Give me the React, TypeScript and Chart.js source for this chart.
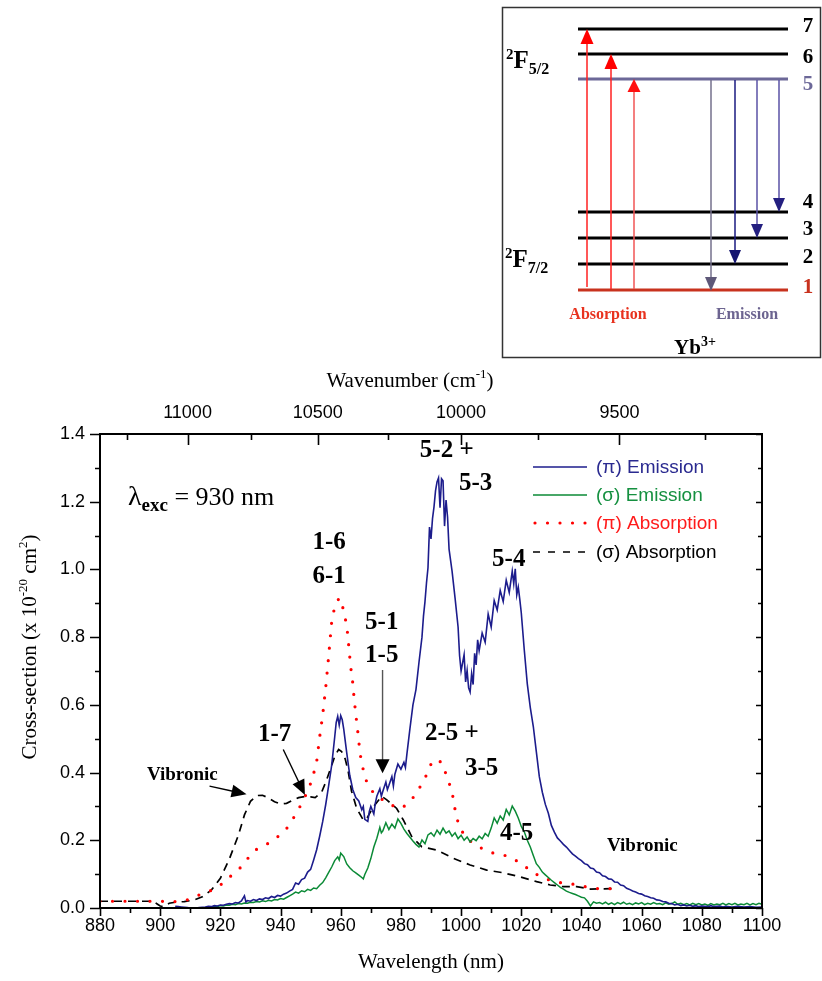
import { useEffect, useRef } from "react";
import { Chart, registerables } from "chart.js";
Chart.register(...registerables);

// ---------- data: [wavelength nm, cross-section x1e-20 cm^2] ----------
const piEmission: [number, number][] = [
  [905,0.005],[906,0.004],[907,0.003],[908,0.002],[909,0.001],[910,0],[911,0],[912,0],[913,0.001],[914,0.002],
  [915,0.003],[916,0.005],[917,0.004],[918,0.007],[919,0.006],[920,0.009],[921,0.008],[922,0.011],[923,0.013],[924,0.012],
  [925,0.016],[926,0.015],[927,0.021],[928,0.036],[928.5,0.018],[929,0.022],[930,0.020],[931,0.025],[932,0.022],[933,0.027],
  [934,0.025],[935,0.030],[936,0.028],[937,0.034],[938,0.031],[939,0.037],[940,0.035],[941,0.041],[942,0.044],[943,0.050],
  [944,0.055],[945,0.074],[946,0.070],[947,0.084],[948,0.088],[949,0.106],[950,0.114],[951,0.142],[952,0.172],[953,0.212],
  [954,0.255],[955,0.305],[956,0.362],[957,0.422],[958,0.505],[958.5,0.548],[959,0.566],[959.5,0.540],[960,0.568],[960.5,0.556],
  [961,0.528],[962,0.458],[963,0.392],[964,0.350],[965,0.326],[966,0.316],[967,0.290],[967.5,0.300],[968,0.262],[969,0.256],
  [969.5,0.285],[970,0.300],[971,0.278],[971.5,0.310],[972,0.330],[973,0.352],[973.5,0.330],[974,0.345],[975,0.372],[975.5,0.350],
  [976,0.362],[977,0.388],[977.5,0.360],[978,0.395],[979,0.425],[980,0.410],[981,0.430],[981.5,0.415],[982,0.455],[983,0.530],
  [984,0.600],[985,0.645],[986,0.725],[987,0.800],[987.5,0.862],[988,0.905],[988.5,0.960],[989,1.005],[989.5,1.125],[990,1.090],
  [990.5,1.150],[991,1.185],[991.5,1.232],[992,1.258],[992.5,1.270],[993,1.182],[993.5,1.268],[994,1.262],[994.5,1.128],[995,1.205],
  [995.5,1.155],[996,1.060],[997,0.995],[998,0.915],[999,0.830],[999.5,0.745],[1000,0.700],[1001,0.748],[1001.5,0.668],[1002,0.702],
  [1002.5,0.650],[1003,0.638],[1003.5,0.692],[1004,0.660],[1004.5,0.752],[1005,0.718],[1005.5,0.792],[1006,0.760],[1007,0.812],[1008,0.785],
  [1009,0.868],[1010,0.830],[1011,0.908],[1012,0.880],[1013,0.938],[1014,0.905],[1015,0.968],[1016,0.932],[1017,0.995],[1017.5,0.958],
  [1018,1.002],[1018.5,0.925],[1019,0.948],[1019.5,0.912],[1020,0.872],[1021,0.762],[1022,0.662],[1023,0.592],[1024,0.536],[1025,0.462],
  [1026,0.388],[1027,0.342],[1028,0.306],[1029,0.280],[1030,0.244],[1031,0.224],[1032,0.207],[1033,0.198],[1034,0.188],[1035,0.180],
  [1036,0.170],[1037,0.160],[1038,0.153],[1039,0.146],[1040,0.140],[1041,0.131],[1042,0.128],[1043,0.118],[1044,0.116],[1045,0.106],
  [1046,0.104],[1047,0.095],[1048,0.093],[1049,0.086],[1050,0.085],[1051,0.077],[1052,0.076],[1053,0.068],[1054,0.066],[1055,0.058],
  [1056,0.055],[1057,0.050],[1058,0.047],[1059,0.043],[1060,0.041],[1061,0.036],[1062,0.034],[1063,0.030],[1064,0.029],[1065,0.024],
  [1066,0.023],[1067,0.019],[1068,0.018],[1069,0.014],[1070,0.013],[1071,0.009],[1072,0.011],[1073,0.007],[1074,0.009],[1075,0.006],
  [1076,0.008],[1077,0.005],[1078,0.007],[1079,0.004],[1080,0.006],[1082,0.004],[1083,0.007],[1084,0.004],[1086,0.006],[1087,0.003],
  [1088,0.005],[1090,0.003],[1092,0.005],[1094,0.003],[1096,0.004],[1098,0.002],[1100,0.003]
];

const sigmaEmission: [number, number][] = [
  [914,0],[915,0.001],[916,0.003],[917,0.002],[918,0.005],[919,0.004],[920,0.007],[921,0.006],[922,0.009],[923,0.008],
  [924,0.011],[925,0.010],[926,0.013],[927,0.012],[928,0.015],[929,0.014],[930,0.017],[931,0.016],[932,0.019],[933,0.018],
  [934,0.021],[935,0.019],[936,0.023],[937,0.021],[938,0.025],[939,0.024],[940,0.028],[941,0.026],[942,0.031],[943,0.036],
  [944,0.041],[945,0.047],[946,0.044],[947,0.051],[948,0.048],[949,0.055],[950,0.052],[951,0.059],[952,0.057],[953,0.067],
  [954,0.075],[955,0.089],[956,0.105],[957,0.121],[958,0.140],[959,0.151],[959.5,0.142],[960,0.162],[961,0.152],[962,0.130],
  [963,0.119],[964,0.110],[965,0.104],[966,0.097],[967,0.090],[967.5,0.086],[968,0.099],[969,0.118],[970,0.146],[971,0.180],
  [972,0.206],[973,0.238],[973.5,0.222],[974,0.228],[975,0.252],[976,0.232],[977,0.248],[978,0.236],[979,0.263],[980,0.250],
  [981,0.233],[982,0.220],[983,0.209],[984,0.198],[985,0.188],[986,0.180],[987,0.201],[988,0.190],[989,0.216],[990,0.222],
  [991,0.212],[992,0.230],[993,0.218],[994,0.236],[995,0.221],[996,0.228],[997,0.212],[998,0.222],[999,0.205],[1000,0.215],
  [1001,0.200],[1002,0.210],[1003,0.195],[1004,0.205],[1005,0.199],[1006,0.212],[1007,0.204],[1008,0.220],[1009,0.212],[1010,0.236],
  [1011,0.266],[1012,0.250],[1013,0.272],[1014,0.260],[1015,0.291],[1016,0.275],[1017,0.301],[1018,0.286],[1019,0.266],[1020,0.241],
  [1021,0.225],[1022,0.200],[1023,0.180],[1024,0.155],[1025,0.131],[1026,0.120],[1027,0.106],[1028,0.098],[1029,0.090],[1030,0.082],
  [1031,0.075],[1032,0.068],[1033,0.061],[1034,0.056],[1035,0.050],[1036,0.046],[1037,0.043],[1038,0.040],[1039,0.036],[1040,0.032],
  [1041,0.030],[1042,0.020],[1043,0.006],[1044,0.018],[1045,0.014],[1046,0.016],[1047,0.012],[1048,0.017],[1049,0.011],[1050,0.015],
  [1051,0.010],[1052,0.016],[1053,0.012],[1054,0.017],[1055,0.011],[1056,0.014],[1057,0.010],[1058,0.015],[1059,0.012],[1060,0.016],
  [1061,0.010],[1062,0.014],[1063,0.011],[1064,0.016],[1065,0.012],[1066,0.013],[1067,0.010],[1068,0.015],[1069,0.011],[1070,0.013],
  [1071,0.018],[1072,0.011],[1073,0.014],[1074,0.010],[1075,0.013],[1076,0.009],[1077,0.014],[1078,0.010],[1079,0.013],[1080,0.009],
  [1081,0.012],[1082,0.008],[1083,0.013],[1084,0.009],[1085,0.012],[1086,0.010],[1087,0.014],[1088,0.009],[1089,0.013],[1090,0.010],
  [1091,0.014],[1092,0.009],[1093,0.012],[1094,0.010],[1095,0.014],[1096,0.009],[1097,0.013],[1098,0.010],[1099,0.014],[1100,0.011]
];

const piAbsorption: [number, number][] = [
  [880,0.02],[884,0.02],[888,0.02],[892,0.02],[896,0.02],[900,0.02],[903,0.019],[906,0.019],[909,0.024],[911,0.030],
  [914,0.043],[917,0.052],[919,0.061],[921,0.075],[923,0.091],[925,0.106],[927,0.122],[929,0.145],[931,0.168],[933,0.178],
  [935,0.186],[937,0.197],[939,0.210],[941,0.225],[943,0.245],[945,0.277],[947,0.308],[949,0.345],[950.5,0.38],[952,0.432],
  [953,0.505],[954,0.57],[955,0.65],[956,0.745],[957,0.846],[958,0.89],[959,0.91],[960,0.915],[961,0.875],[962,0.835],
  [962.5,0.79],[963.3,0.713],[964,0.665],[964.5,0.614],[965.1,0.565],[965.8,0.511],[966.4,0.457],[968,0.385],[970,0.35],[972,0.33],
  [975,0.314],[979,0.294],[981,0.3],[983.5,0.319],[986,0.352],[988.5,0.393],[990,0.425],[992,0.44],[994,0.425],[995.2,0.388],
  [996.9,0.348],[998.3,0.275],[999.6,0.235],[1002.4,0.201],[1006.9,0.176],[1010.7,0.162],[1015.2,0.154],[1019.6,0.134],[1024,0.104],[1028.4,0.085],
  [1032.9,0.075],[1036.8,0.071],[1041.2,0.063],[1045.7,0.057],[1050.3,0.057]
];

const sigmaAbsorption: [number, number][] = [
  [880,0.02],[884,0.02],[888,0.02],[892,0.02],[896,0.02],[898,0.018],[899,0.012],[900,0.006],[901,0.004],[902,0.008],
  [903,0.014],[905,0.017],[908,0.019],[911,0.023],[914,0.033],[917,0.053],[920,0.088],[923,0.145],[926,0.215],[928,0.275],
  [930,0.315],[932,0.332],[934,0.333],[936,0.325],[938,0.314],[940,0.307],[942,0.309],[944,0.318],[946,0.326],[948,0.329],
  [950,0.328],[951.5,0.326],[953.7,0.343],[955.3,0.378],[957,0.422],[958.1,0.450],[959.3,0.468],[960.3,0.462],[961.5,0.440],[962.5,0.403],
  [963.6,0.345],[965.3,0.294],[967.5,0.260],[968.5,0.262],[970.8,0.298],[973.6,0.330],[975.2,0.320],[978.6,0.294],[980.8,0.260],[983.6,0.211],
  [986.9,0.181],[991.9,0.171],[997.4,0.147],[1003,0.127],[1008.5,0.112],[1014,0.104],[1019.6,0.092],[1025.1,0.078],[1029.6,0.068],[1034,0.063],
  [1038.4,0.063],[1043,0.056],[1050,0.057]
];

const seriesLabels = ["(π) Emission", "(σ) Emission", "(π) Absorption", "(σ) Absorption"];
const seriesColors = ["#1c1c8c", "#0b8a36", "#ff0000", "#000000"];
const legendTextColors = ["#2a2a90", "#159040", "#ff1a1a", "#000000"];

const topWavenumberMajor = [11000, 10500, 10000, 9500];
const topWavenumberMinor = [11250, 10750, 10250, 9750, 9250];

// transition labels anchored in data coordinates (left edge, vertical centre)
const peakLabels = ["5-2 +", "5-3", "5-4", "1-6", "6-1", "5-1", "1-5", "1-7", "2-5 +", "3-5", "4-5"];
const peakLabelNm = [986.3, 999.3, 1010.3, 950.6, 950.6, 968.1, 968.1, 932.5, 988.0, 1001.3, 1012.9];
const peakLabelVal = [1.352, 1.255, 1.028, 1.078, 0.980, 0.842, 0.747, 0.511, 0.514, 0.413, 0.221];

const FONT_SANS = "'Liberation Sans', Arial, Helvetica, sans-serif";
const FONT_SERIF = "'Liberation Serif', 'Times New Roman', Times, serif";

type Part = { t: string; size: number; bold?: boolean; dy?: number };

function richWidth(ctx: CanvasRenderingContext2D, parts: Part[]) {
  let w = 0;
  for (const p of parts) {
    ctx.font = `${p.bold ? "bold " : ""}${p.size}px ${FONT_SERIF}`;
    w += ctx.measureText(p.t).width;
  }
  return w;
}
function drawRich(ctx: CanvasRenderingContext2D, parts: Part[], x: number, y: number, center: boolean) {
  let cx = center ? x - richWidth(ctx, parts) / 2 : x;
  ctx.textAlign = "left";
  ctx.textBaseline = "alphabetic";
  for (const p of parts) {
    ctx.font = `${p.bold ? "bold " : ""}${p.size}px ${FONT_SERIF}`;
    ctx.fillText(p.t, cx, y + (p.dy || 0));
    cx += ctx.measureText(p.t).width;
  }
}

function arrowHead(ctx: CanvasRenderingContext2D, x1: number, y1: number, x2: number, y2: number, len: number, half: number, color: string) {
  const ang = Math.atan2(y2 - y1, x2 - x1);
  const bx = x2 - len * Math.cos(ang), by = y2 - len * Math.sin(ang);
  const px = -Math.sin(ang) * half, py = Math.cos(ang) * half;
  ctx.fillStyle = color;
  ctx.beginPath();
  ctx.moveTo(x2, y2);
  ctx.lineTo(bx + px, by + py);
  ctx.lineTo(bx - px, by - py);
  ctx.closePath();
  ctx.fill();
}
function arrow(ctx: CanvasRenderingContext2D, x1: number, y1: number, x2: number, y2: number, lineColor: string, headColor: string, lw: number, len: number, half: number) {
  const ang = Math.atan2(y2 - y1, x2 - x1);
  ctx.strokeStyle = lineColor;
  ctx.lineWidth = lw;
  ctx.beginPath();
  ctx.moveTo(x1, y1);
  ctx.lineTo(x2 - (len - 1) * Math.cos(ang), y2 - (len - 1) * Math.sin(ang));
  ctx.stroke();
  arrowHead(ctx, x1, y1, x2, y2, len, half, headColor);
}

// ---------- energy level inset (a schematic, fixed layout) ----------
const insetLevels = [
  { n: "7", y: 29, color: "#000", labelY: 32 },
  { n: "6", y: 54, color: "#000", labelY: 63 },
  { n: "5", y: 79, color: "#6c6898", labelY: 90 },
  { n: "4", y: 212, color: "#000", labelY: 208 },
  { n: "3", y: 238, color: "#000", labelY: 235 },
  { n: "2", y: 264, color: "#000", labelY: 263 },
  { n: "1", y: 290, color: "#c8321e", labelY: 293 },
];

function drawInset(ctx: CanvasRenderingContext2D) {
  ctx.save();
  ctx.strokeStyle = "#333";
  ctx.lineWidth = 1.5;
  ctx.strokeRect(502.5, 7.5, 318, 350);
  for (const l of insetLevels) {
    ctx.strokeStyle = l.color;
    ctx.lineWidth = 3;
    ctx.beginPath();
    ctx.moveTo(578, l.y);
    ctx.lineTo(788, l.y);
    ctx.stroke();
    ctx.fillStyle = l.color;
    ctx.font = `bold 21px ${FONT_SERIF}`;
    ctx.textAlign = "center";
    ctx.textBaseline = "alphabetic";
    ctx.fillText(l.n, 808, l.labelY);
  }
  // absorption arrows
  arrow(ctx, 587, 287, 587, 29, "#ff2020", "#ff0000", 1.5, 15, 6.5);
  arrow(ctx, 611, 289, 611, 54, "#ff2020", "#ff0000", 1.5, 15, 6.5);
  arrow(ctx, 634, 289, 634, 79, "#f05555", "#ff1010", 1.5, 13, 6.5);
  // emission arrows
  arrow(ctx, 711, 80, 711, 291, "#74708c", "#5e5878", 1.5, 14, 6);
  arrow(ctx, 735, 80, 735, 264, "#1a1a80", "#141470", 1.5, 14, 6);
  arrow(ctx, 757, 80, 757, 238, "#5a52a6", "#241f80", 1.5, 14, 6);
  arrow(ctx, 779, 80, 779, 212, "#5a52a6", "#241f80", 1.5, 14, 6);

  ctx.fillStyle = "#000";
  drawRich(ctx, [{ t: "2", size: 15, bold: true, dy: -9 }, { t: "F", size: 25, bold: true }, { t: "5/2", size: 16, bold: true, dy: 6 }], 506, 68, false);
  drawRich(ctx, [{ t: "2", size: 15, bold: true, dy: -9 }, { t: "F", size: 25, bold: true }, { t: "7/2", size: 16, bold: true, dy: 6 }], 505, 267, false);

  ctx.fillStyle = "#e8321e";
  drawRich(ctx, [{ t: "Absorption", size: 16, bold: true }], 608, 319, true);
  ctx.fillStyle = "#6c6490";
  drawRich(ctx, [{ t: "Emission", size: 16, bold: true }], 747, 319, true);
  ctx.fillStyle = "#000";
  drawRich(ctx, [{ t: "Yb", size: 21, bold: true }, { t: "3+", size: 14, bold: true, dy: -8 }], 695, 354, true);
  ctx.restore();
}

const overlayPlugin = {
  id: "overlay",
  afterDraw(chart: any) {
    const { ctx, chartArea: a, scales } = chart;
    const xs = scales.x, ys = scales.y;
    const X = (nm: number) => xs.getPixelForValue(nm);
    const Y = (v: number) => ys.getPixelForValue(v);
    ctx.save();

    // frame
    ctx.strokeStyle = "#000";
    ctx.lineWidth = 2;
    ctx.strokeRect(a.left, a.top, a.right - a.left, a.bottom - a.top);

    // ticks
    ctx.lineWidth = 1.6;
    ctx.beginPath();
    for (let i = 0; i <= 14; i++) {
      const y = Math.round(Y(i / 10)) + 0.5;
      const major = i % 2 === 0;
      ctx.moveTo(a.left, y); ctx.lineTo(a.left - (major ? 10 : 5), y);
      ctx.moveTo(a.right, y); ctx.lineTo(a.right - (major ? 6 : 4), y);
    }
    for (let nm = 880; nm <= 1100; nm += 10) {
      const x = Math.round(X(nm)) + 0.5;
      const major = (nm - 880) % 20 === 0;
      ctx.moveTo(x, a.bottom); ctx.lineTo(x, a.bottom + (major ? 8 : 5));
    }
    for (const k of topWavenumberMajor) {
      const x = Math.round(X(1e7 / k)) + 0.5;
      ctx.moveTo(x, a.top); ctx.lineTo(x, a.top + 11);
    }
    for (const k of topWavenumberMinor) {
      const x = Math.round(X(1e7 / k)) + 0.5;
      ctx.moveTo(x, a.top); ctx.lineTo(x, a.top + 6);
    }
    ctx.stroke();

    // legend
    const lx0 = a.left + 433, lx1 = a.left + 487, tx = a.left + 496;
    const rows = [33, 61, 89, 118];
    for (let i = 0; i < 4; i++) {
      const y = a.top + rows[i];
      ctx.strokeStyle = seriesColors[i];
      ctx.setLineDash(i === 2 ? [0, 12.5] : i === 3 ? [7, 8] : []);
      ctx.lineCap = i === 2 ? "round" : "butt";
      ctx.lineWidth = i === 2 ? 3.2 : i === 3 ? 1.7 : 1.6;
      ctx.beginPath(); ctx.moveTo(lx0 + (i === 2 ? 2 : 0), y); ctx.lineTo(lx1, y); ctx.stroke();
      ctx.setLineDash([]);
      ctx.lineCap = "butt";
      ctx.fillStyle = legendTextColors[i];
      ctx.font = `19px ${FONT_SANS}`;
      ctx.textAlign = "left";
      ctx.textBaseline = "middle";
      ctx.fillText(seriesLabels[i], tx, y + 1);
    }

    // peak labels
    ctx.fillStyle = "#000";
    ctx.font = `bold 25px ${FONT_SERIF}`;
    ctx.textAlign = "left";
    ctx.textBaseline = "middle";
    for (let i = 0; i < peakLabels.length; i++) {
      ctx.fillText(peakLabels[i], X(peakLabelNm[i]), Y(peakLabelVal[i]));
    }
    ctx.font = `bold 19px ${FONT_SERIF}`;
    ctx.fillText("Vibronic", X(895.6), Y(0.393));
    ctx.fillText("Vibronic", X(1048.5), Y(0.183));

    // arrows
    arrow(ctx, X(973.9), Y(0.703), X(973.9), Y(0.398), "#555", "#000", 1.4, 14, 7);
    arrow(ctx, X(940.9), Y(0.468), X(948.1), Y(0.334), "#000", "#000", 1.4, 15, 6.5);
    arrow(ctx, X(916.4), Y(0.360), X(928.7), Y(0.336), "#000", "#000", 1.4, 15, 6.5);

    // lambda_exc
    ctx.fillStyle = "#000";
    drawRich(ctx, [
      { t: "λ", size: 28 },
      { t: "exc", size: 19, bold: true, dy: 6 },
      { t: " = 930 nm", size: 26 },
    ], X(889.3), Y(1.214) + 8, false);

    // axis titles
    drawRich(ctx, [{ t: "Wavelength (nm)", size: 21 }], (a.left + a.right) / 2, 968, true);
    drawRich(ctx, [{ t: "Wavenumber (cm", size: 21 }, { t: "-1", size: 13, dy: -9 }, { t: ")", size: 21 }], 410, 387, true);
    ctx.save();
    ctx.translate(36, (a.top + a.bottom) / 2 - 24);
    ctx.rotate(-Math.PI / 2);
    drawRich(ctx, [
      { t: "Cross-section (x 10", size: 21 },
      { t: "-20", size: 13, dy: -9 },
      { t: " cm", size: 21 },
      { t: "2", size: 13, dy: -9 },
      { t: ")", size: 21 },
    ], 0, 0, true);
    ctx.restore();

    drawInset(ctx);
    ctx.restore();
  },
};

export default function App() {
  const ref = useRef<HTMLCanvasElement | null>(null);
  useEffect(() => {
    if (!ref.current) return;
    const tickFont = { family: FONT_SANS, size: 18 };
    const toXY = (s: [number, number][]) => s.map(([x, y]) => ({ x, y }));
    const chart = new Chart(ref.current, {
      type: "line",
      data: {
        datasets: [
          { label: seriesLabels[0], data: toXY(piEmission), borderColor: seriesColors[0], borderWidth: 1.6, pointRadius: 0, tension: 0, fill: false },
          { label: seriesLabels[1], data: toXY(sigmaEmission), borderColor: seriesColors[1], borderWidth: 1.5, pointRadius: 0, tension: 0, fill: false },
          { label: seriesLabels[2], data: toXY(piAbsorption), borderColor: seriesColors[2], borderWidth: 3.2, borderDash: [0, 12.5], borderCapStyle: "round", pointRadius: 0, tension: 0, fill: false },
          { label: seriesLabels[3], data: toXY(sigmaAbsorption), borderColor: seriesColors[3], borderWidth: 1.7, borderDash: [8, 6], pointRadius: 0, tension: 0, fill: false },
        ],
      } as any,
      options: {
        responsive: false,
        animation: false,
        devicePixelRatio: 1,
        layout: { padding: { left: 0, right: 60, top: 0, bottom: 0 } },
        plugins: { legend: { display: false }, tooltip: { enabled: false } },
        scales: {
          x: {
            type: "linear", position: "bottom", min: 880, max: 1100,
            afterFit: (s: any) => { s.height = 73; },
            grid: { display: false, drawTicks: false }, border: { display: false },
            ticks: { stepSize: 20, autoSkip: false, maxRotation: 0, padding: 7, color: "#000", font: tickFont, callback: (v: any) => String(Math.round(Number(v))) },
          },
          xTop: {
            type: "linear", position: "top", min: 880, max: 1100,
            afterFit: (s: any) => { s.height = 434; },
            afterBuildTicks: (s: any) => { s.ticks = topWavenumberMajor.map((k) => ({ value: 1e7 / k })); },
            grid: { display: false, drawTicks: false }, border: { display: false },
            ticks: { autoSkip: false, maxRotation: 0, padding: 10, color: "#000", font: tickFont, callback: (v: any) => String(Math.round(1e7 / Number(v))) },
          },
          y: {
            type: "linear", position: "left", min: 0, max: 1.4,
            afterFit: (s: any) => { s.width = 100; },
            grid: { display: false, drawTicks: false }, border: { display: false },
            ticks: { stepSize: 0.2, padding: 15, color: "#000", font: tickFont, callback: (v: any) => Number(v).toFixed(1) },
          },
        },
      } as any,
      plugins: [overlayPlugin],
    });
    return () => chart.destroy();
  }, []);
  return (
    <div style={{ position: "absolute", left: 0, top: 0, width: 822, height: 981, background: "#fff" }}>
      <canvas ref={ref} width={822} height={981} style={{ width: 822, height: 981, display: "block" }} />
    </div>
  );
}
